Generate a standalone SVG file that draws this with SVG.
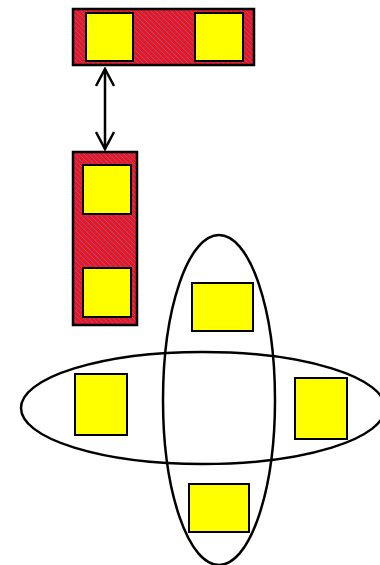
<svg xmlns="http://www.w3.org/2000/svg" width="380" height="565" viewBox="0 0 380 565">
<style>
.cont{fill:url(#hatch);stroke:#000;stroke-width:2.5}
.box{fill:#ffff00;stroke:#000;stroke-width:2}
.ell{fill:none;stroke:#000;stroke-width:2.5}
.conn{stroke:#000;stroke-width:2.5;fill:none}
</style>
<defs>
<pattern id="hatch" patternUnits="userSpaceOnUse" x="0" y="0" width="5" height="5">
<rect width="5" height="5" fill="#ff1010"/>
<g fill="#4a6cd0" shape-rendering="crispEdges">
<rect x="0" y="0" width="1" height="1"/>
<rect x="1" y="1" width="1" height="1"/>
<rect x="2" y="2" width="1" height="1"/>
<rect x="3" y="3" width="1" height="1"/>
<rect x="4" y="4" width="1" height="1"/>
</g>
</pattern>
<marker id="open" viewBox="0 0 20 20" refX="18" refY="10" markerWidth="20" markerHeight="20" markerUnits="userSpaceOnUse" orient="auto-start-reverse">
<path d="M1,1 L18,10 L1,19" fill="none" stroke="#000" stroke-width="2.5"/>
</marker>
</defs>
<g id="ellipses">
<ellipse id="vertical-ellipse" class="ell" cx="219" cy="400" rx="56" ry="165"/>
<ellipse id="horizontal-ellipse" class="ell" cx="203" cy="408" rx="182" ry="56"/>
</g>
<g id="top-container">
<rect class="cont" x="73" y="9" width="181" height="56"/>
<rect class="box" x="86" y="13" width="47" height="48"/>
<rect class="box" x="195" y="13" width="48" height="48"/>
</g>
<g id="side-container">
<rect class="cont" x="73" y="152" width="64" height="173"/>
<rect class="box" x="83" y="165" width="48" height="49"/>
<rect class="box" x="83" y="268" width="48" height="49"/>
</g>
<g id="node-top"><rect class="box" x="192" y="283" width="61" height="48"/></g>
<g id="node-left"><rect class="box" x="75" y="374" width="52" height="61"/></g>
<g id="node-right"><rect class="box" x="295" y="378" width="52" height="61"/></g>
<g id="node-bottom"><rect class="box" x="189" y="484" width="60" height="48"/></g>
<g id="connectors">
<line class="conn" x1="105" y1="69" x2="105" y2="149" marker-start="url(#open)" marker-end="url(#open)"/>
</g>
</svg>
